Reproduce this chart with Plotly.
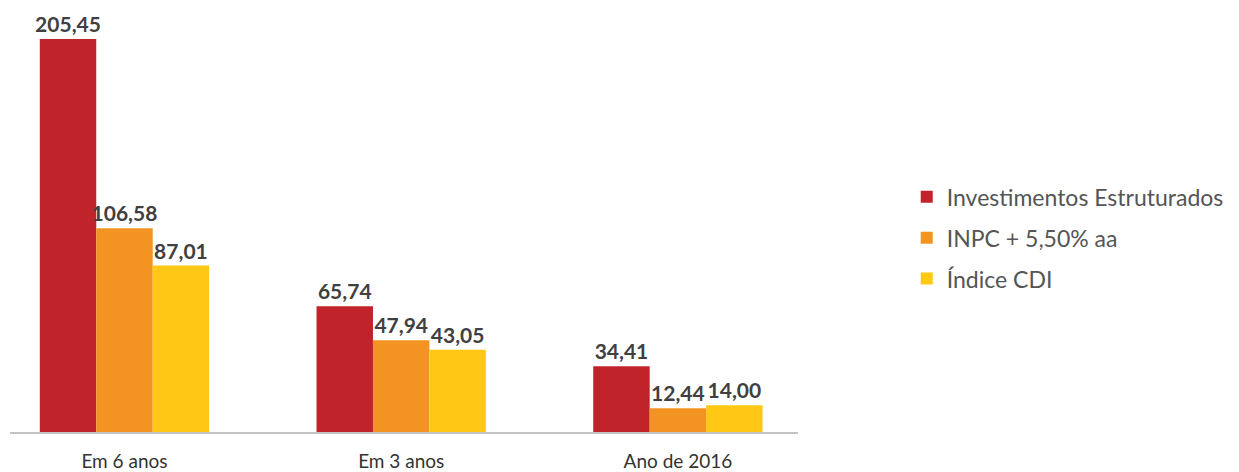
import plotly.graph_objects as go

categories = ["Em 6 anos", "Em 3 anos", "Ano de 2016"]
series_names = ["Investimentos Estruturados", "INPC + 5,50% aa", "Índice CDI"]
investimentos = [205.45, 65.74, 34.41]
inpc = [106.58, 47.94, 12.44]
cdi = [87.01, 43.05, 14.00]
colors = ["#C0232A", "#F39322", "#FEC814"]

fig = go.Figure()
for i, (name, vals) in enumerate(zip(series_names, [investimentos, inpc, cdi])):
    fig.add_trace(go.Bar(
        x=categories, y=vals, name=name,
        marker=dict(color=colors[i], line=dict(width=0)),
        text=[f"{v:.2f}".replace(".", ",") for v in vals],
        textposition="outside", cliponaxis=False, constraintext="none",
        textfont=dict(family="Lato", size=21, color="#404040", weight="bold"),
        legendgroup=f"g{i}",
    ))

# page body has an 8px default margin, so the figure is 8px smaller and shifted
fig.update_layout(
    width=1231, height=464,
    margin=dict(l=2, r=441, t=31, b=40, autoexpand=False),
    paper_bgcolor="white", plot_bgcolor="white",
    barmode="group", bargap=0.388, bargroupgap=0,
    showlegend=True,
    legend=dict(x=1.138, y=0.494, xanchor="left", yanchor="middle",
                font=dict(family="Lato", size=23, color="#555555"),
                traceorder="grouped", tracegroupgap=8, itemwidth=30),
    xaxis=dict(range=[-0.4137, 2.434], showline=True, linecolor="#c4c4c4", linewidth=2,
               ticks="", showgrid=False, zeroline=False,
               tickfont=dict(family="Lato", size=19, color="#333333"),
               ticklabelstandoff=11),
    yaxis=dict(range=[0, 205.45], visible=False, showgrid=False, zeroline=False),
)
fig.write_html("out.html")
